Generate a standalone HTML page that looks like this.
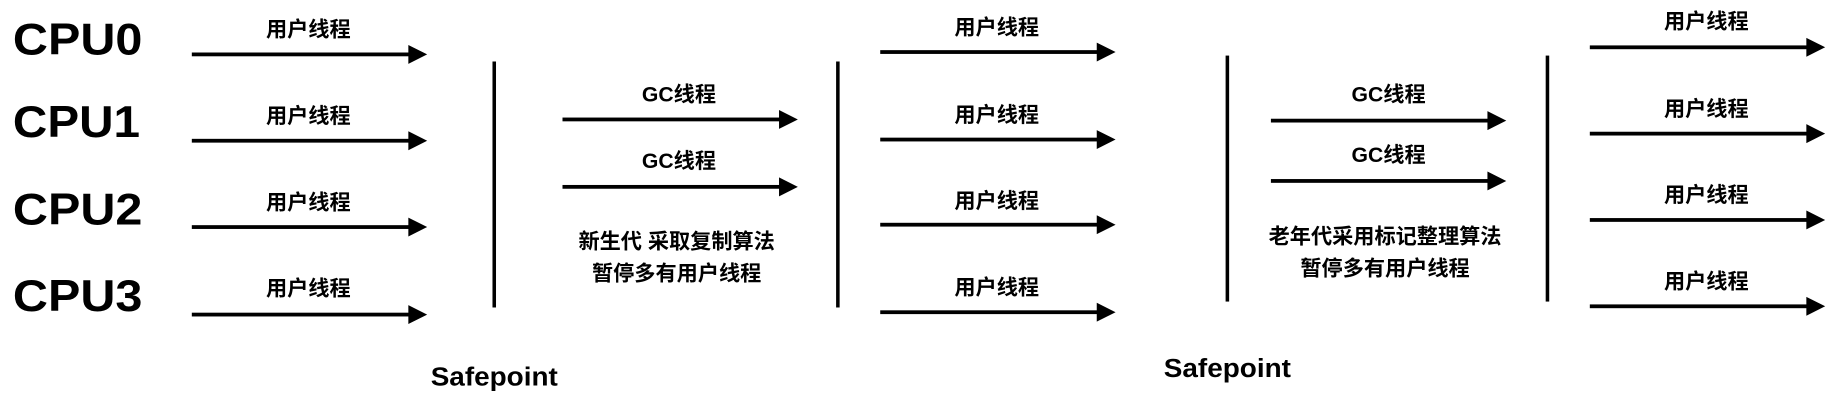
<!DOCTYPE html>
<html><head><meta charset="utf-8"><style>
html,body{margin:0;padding:0;background:#fff;width:1844px;height:408px;overflow:hidden}
svg{display:block}
text{font-family:"Liberation Sans","Noto Sans CJK SC",sans-serif;fill:#000}
.cpu{font-size:38px;font-weight:bold}
.lb{font-size:18px;font-weight:bold;text-anchor:middle}
.sp{font-size:22px;font-weight:bold;text-anchor:middle}
</style></head><body>
<svg width="1844" height="408" viewBox="0 0 1567 345" preserveAspectRatio="none" xmlns="http://www.w3.org/2000/svg">
<defs>
<g id="arr"><rect x="0" y="-1.6" width="186" height="3.2" fill="#000"/><polygon points="184,-8 200,0 184,8" fill="#000"/></g>
</defs>
<text class="cpu" x="11" y="46" textLength="110" lengthAdjust="spacingAndGlyphs">CPU0</text>
<text class="cpu" x="11" y="116" textLength="108" lengthAdjust="spacingAndGlyphs">CPU1</text>
<text class="cpu" x="11" y="190" textLength="110" lengthAdjust="spacingAndGlyphs">CPU2</text>
<text class="cpu" x="11" y="263" textLength="110" lengthAdjust="spacingAndGlyphs">CPU3</text>

<use href="#arr" x="163" y="46"/><text class="lb" x="262" y="31">用户线程</text>
<use href="#arr" x="163" y="119"/><text class="lb" x="262" y="104">用户线程</text>
<use href="#arr" x="163" y="192"/><text class="lb" x="262" y="177">用户线程</text>
<use href="#arr" x="163" y="266"/><text class="lb" x="262" y="250">用户线程</text>

<rect x="418.5" y="52" width="3" height="208" fill="#000"/>
<use href="#arr" x="478" y="101"/><text class="lb" x="577" y="86">GC线程</text>
<use href="#arr" x="478" y="158"/><text class="lb" x="577" y="142">GC线程</text>
<text class="lb" x="575" y="210">新生代 采取复制算法</text>
<text class="lb" x="575" y="237">暂停多有用户线程</text>
<rect x="710.5" y="52" width="3" height="208" fill="#000"/>

<use href="#arr" x="748" y="44"/><text class="lb" x="847" y="29">用户线程</text>
<use href="#arr" x="748" y="118"/><text class="lb" x="847" y="103">用户线程</text>
<use href="#arr" x="748" y="190"/><text class="lb" x="847" y="176">用户线程</text>
<use href="#arr" x="748" y="264"/><text class="lb" x="847" y="249">用户线程</text>

<rect x="1041.5" y="47" width="3" height="208" fill="#000"/>
<use href="#arr" x="1080" y="102"/><text class="lb" x="1180" y="86">GC线程</text>
<use href="#arr" x="1080" y="153"/><text class="lb" x="1180" y="137">GC线程</text>
<text class="lb" x="1177" y="206">老年代采用标记整理算法</text>
<text class="lb" x="1177" y="233">暂停多有用户线程</text>
<rect x="1313.5" y="47" width="3" height="208" fill="#000"/>

<use href="#arr" x="1351" y="40"/><text class="lb" x="1450" y="24">用户线程</text>
<use href="#arr" x="1351" y="113"/><text class="lb" x="1450" y="98">用户线程</text>
<use href="#arr" x="1351" y="186"/><text class="lb" x="1450" y="171">用户线程</text>
<use href="#arr" x="1351" y="259"/><text class="lb" x="1450" y="244">用户线程</text>

<text class="sp" x="420" y="326" textLength="108" lengthAdjust="spacingAndGlyphs">Safepoint</text>
<text class="sp" x="1043" y="319" textLength="108" lengthAdjust="spacingAndGlyphs">Safepoint</text>
</svg>
</body></html>
